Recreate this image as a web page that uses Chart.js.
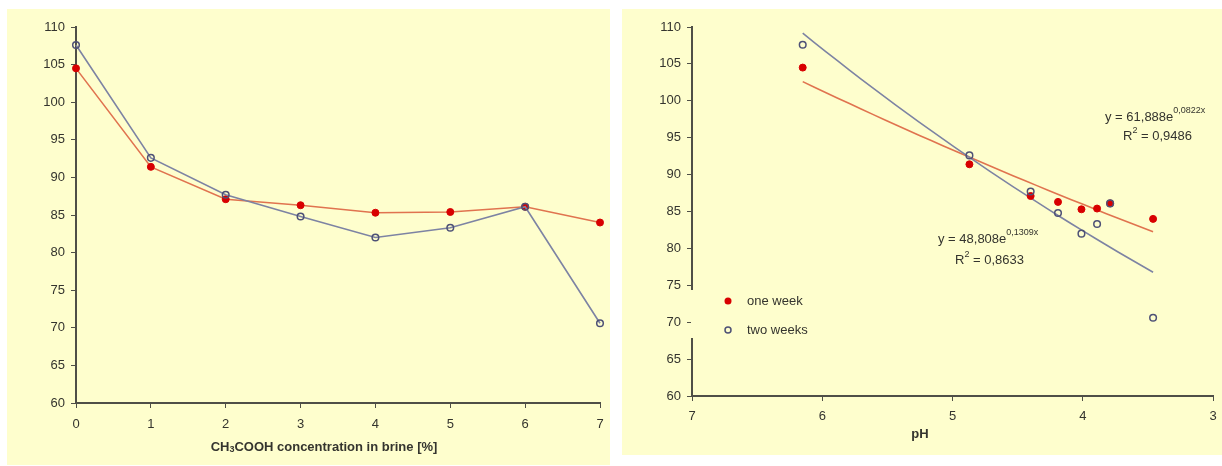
<!DOCTYPE html>
<html lang="en">
<head>
    <meta charset="UTF-8">
    <title>Brine acidity charts</title>
    <style>
        body {
            margin: 0;
            background: #ffffff;
            width: 1222px;
            height: 466px;
            position: relative;
            overflow: hidden;
            font-family: "Liberation Sans", Arial, sans-serif;
        }
        .panel {
            position: absolute;
            background: #fefecd;
        }
        .panel canvas { display: block; }
        #leftPanel { left: 7px; top: 9px; width: 603px; height: 456px; }
        #rightPanel { left: 622px; top: 9px; width: 600px; height: 446px; }
    </style>
</head>
<body>
    <div class="panel" id="leftPanel"><canvas id="concChart" width="603" height="456"></canvas></div>
    <div class="panel" id="rightPanel"><canvas id="phChart" width="600" height="446"></canvas></div>

<script src="https://cdn.jsdelivr.net/npm/chart.js"></script>
<script>
    // values
    const concentrations = [0, 1, 2, 3, 4, 5, 6, 7];
    const phValues = [6.15, 4.87, 4.40, 4.19, 4.01, 3.89, 3.79, 3.46];
    const oneWeek = [104.5, 91.4, 87.1, 86.3, 85.3, 85.4, 86.1, 84.0];
    const twoWeeks = [107.6, 92.6, 87.7, 84.8, 82.0, 83.3, 86.1, 70.6];
    const yTicks = [60, 65, 70, 75, 80, 85, 90, 95, 100, 105, 110];

    // exponential trendlines as printed on the chart: y = a * e^(b x)
    const trendOne = { a: 61.888, b: 0.0822, label: ['61,888', '0,0822x'], r2: '0,9486' };
    const trendTwo = { a: 48.808, b: 0.1309, label: ['48,808', '0,1309x'], r2: '0,8633' };

    const BG = '#fefecd';
    const AXIS = '#4f4f47';
    const TEXT = '#34342e';
    const RED = '#d80000';
    const RED_LINE = '#e0734f';
    const BLUE_LINE = '#7d83a3';
    const CIRCLE = '#4e5176';
    const FONT = '"Liberation Sans", Arial, sans-serif';

    Chart.defaults.font.family = FONT;
    Chart.defaults.font.size = 13;
    Chart.defaults.color = TEXT;

    function pairs(xs, ys) {
        return xs.map((x, i) => ({ x: x, y: ys[i] }));
    }

    function trendPoints(t) {
        // sample the trendline across the measured pH range
        const lo = Math.min(...phValues), hi = Math.max(...phValues);
        const pts = [];
        for (let i = 0; i <= 30; i++) {
            const x = lo + (hi - lo) * i / 30;
            pts.push({ x: x, y: t.a * Math.exp(t.b * x) });
        }
        return pts;
    }

    function yAxis(width) {
        return {
            min: 60, max: 110,
            afterBuildTicks: s => { s.ticks = yTicks.map(v => ({ value: v })); },
            grid: { drawOnChartArea: false, color: AXIS, tickLength: 5, lineWidth: 1 },
            border: { color: AXIS, width: 2 },
            ticks: { padding: 6, color: TEXT, autoSkip: false },
            afterFit: s => { s.width = width; s.paddingTop = 0; s.paddingBottom = 0; }
        };
    }

    function xAxis(min, max, reverse, height, pad) {
        return {
            type: 'linear', min: min, max: max, reverse: reverse,
            ticks: { stepSize: 1, padding: pad, color: TEXT, autoSkip: false },
            grid: { drawOnChartArea: false, color: AXIS, tickLength: 5 },
            border: { color: AXIS, width: 2 },
            afterFit: s => { s.height = height; s.paddingLeft = 0; s.paddingRight = 0; }
        };
    }

    // draws text runs, with optional shift for sub/superscripts
    function drawRuns(ctx, x, y, runs) {
        let cx = x;
        runs.forEach(r => {
            ctx.font = (r.bold ? 'bold ' : '') + (r.size || 13) + 'px ' + FONT;
            ctx.fillText(r.t, cx, y + (r.dy || 0));
            cx += ctx.measureText(r.t).width;
        });
    }

    function runsWidth(ctx, runs) {
        let w = 0;
        runs.forEach(r => {
            ctx.font = (r.bold ? 'bold ' : '') + (r.size || 13) + 'px ' + FONT;
            w += ctx.measureText(r.t).width;
        });
        return w;
    }

    // left chart: concentration
    const concTitle = {
        id: 'concTitle',
        afterDraw(chart) {
            const ctx = chart.ctx;
            ctx.save();
            ctx.fillStyle = TEXT;
            ctx.textBaseline = 'middle';
            const runs = [
                { t: 'CH', bold: true },
                { t: '3', bold: true, size: 9, dy: 3 },
                { t: 'COOH concentration in brine [%]', bold: true }
            ];
            const w = runsWidth(ctx, runs);
            drawRuns(ctx, 317 - w / 2, 438, runs);
            ctx.restore();
        }
    };

    new Chart(document.getElementById('concChart'), {
        type: 'scatter',
        data: {
            datasets: [
                {
                    label: 'two weeks',
                    data: pairs(concentrations, twoWeeks),
                    showLine: true,
                    clip: false,
                    borderColor: BLUE_LINE,
                    borderWidth: 1.6,
                    pointRadius: 3.3,
                    pointBackgroundColor: 'rgba(0,0,0,0)',
                    pointBorderColor: CIRCLE,
                    pointBorderWidth: 1.5
                },
                {
                    label: 'one week',
                    data: pairs(concentrations, oneWeek),
                    showLine: true,
                    clip: false,
                    borderColor: RED_LINE,
                    borderWidth: 1.6,
                    pointRadius: 3.5,
                    pointBackgroundColor: RED,
                    pointBorderColor: RED,
                    pointBorderWidth: 1
                }
            ]
        },
        options: {
            responsive: false,
            animation: false,
            layout: { autoPadding: false, padding: { top: 18, right: 10, left: 0, bottom: 0 } },
            plugins: { legend: { display: false }, tooltip: { enabled: false } },
            scales: {
                x: xAxis(0, 7, false, 62, 9),
                y: yAxis(69)
            }
        },
        plugins: [concTitle]
    });

    // right chart: pH with trendlines
    const phExtras = {
        id: 'phExtras',
        afterDraw(chart) {
            const ctx = chart.ctx;
            ctx.save();
            // legend box sits over the axis
            ctx.fillStyle = BG;
            ctx.fillRect(69, 281, 132, 48);
            ctx.beginPath();
            ctx.arc(106, 292, 3.5, 0, Math.PI * 2);
            ctx.fillStyle = RED;
            ctx.fill();
            ctx.beginPath();
            ctx.arc(106, 321, 3, 0, Math.PI * 2);
            ctx.strokeStyle = CIRCLE;
            ctx.lineWidth = 1.5;
            ctx.stroke();

            ctx.fillStyle = TEXT;
            ctx.textBaseline = 'middle';
            ctx.font = '13px ' + FONT;
            ctx.fillText('one week', 125, 292);
            ctx.fillText('two weeks', 125, 321);

            const eq = (t, x, y, rx, ry) => {
                drawRuns(ctx, x, y, [
                    { t: 'y = ' + t.label[0] + 'e' },
                    { t: t.label[1], size: 9, dy: -6 }
                ]);
                drawRuns(ctx, rx, ry, [
                    { t: 'R' },
                    { t: '2', size: 9, dy: -5 },
                    { t: ' = ' + t.r2 }
                ]);
            };
            eq(trendOne, 483, 108, 501, 127);
            eq(trendTwo, 316, 230, 333, 251);

            ctx.textAlign = 'center';
            ctx.font = 'bold 13px ' + FONT;
            ctx.fillText('pH', 298, 425);
            ctx.restore();
        }
    };

    new Chart(document.getElementById('phChart'), {
        type: 'scatter',
        data: {
            datasets: [
                {
                    label: 'two weeks',
                    data: pairs(phValues, twoWeeks),
                    clip: false,
                    pointRadius: 3.3,
                    pointBackgroundColor: 'rgba(0,0,0,0)',
                    pointBorderColor: CIRCLE,
                    pointBorderWidth: 1.5
                },
                {
                    label: 'one week',
                    data: pairs(phValues, oneWeek),
                    clip: false,
                    pointRadius: 3.5,
                    pointBackgroundColor: RED,
                    pointBorderColor: RED,
                    pointBorderWidth: 1
                },
                {
                    label: 'trend two weeks',
                    data: trendPoints(trendTwo),
                    showLine: true,
                    pointRadius: 0,
                    borderColor: BLUE_LINE,
                    borderWidth: 1.6
                },
                {
                    label: 'trend one week',
                    data: trendPoints(trendOne),
                    showLine: true,
                    pointRadius: 0,
                    borderColor: RED_LINE,
                    borderWidth: 1.6
                }
            ]
        },
        options: {
            responsive: false,
            animation: false,
            layout: { autoPadding: false, padding: { top: 18, right: 9, left: 0, bottom: 0 } },
            plugins: { legend: { display: false }, tooltip: { enabled: false } },
            scales: {
                x: xAxis(3, 7, true, 59, 8),
                y: yAxis(70)
            }
        },
        plugins: [phExtras]
    });
</script>
</body>
</html>
